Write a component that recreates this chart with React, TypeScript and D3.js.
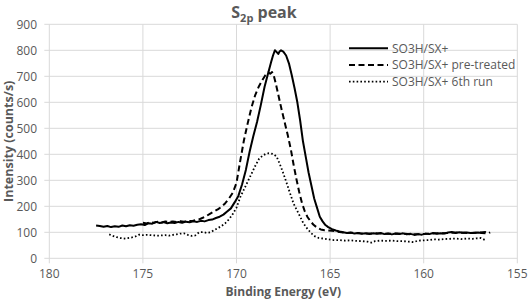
import React from "react";
import * as d3 from "d3";

const xTicks = [180, 175, 170, 165, 160, 155];
const yTicks = [0, 100, 200, 300, 400, 500, 600, 700, 800, 900];
const seriesNames = ["SO3H/SX+", "SO3H/SX+ pre-treated", "SO3H/SX+ 6th run"];

const solidX = [177.5,177.3,177.1,176.9,176.7,176.5,176.3,176.1,175.9,175.7,175.5,175.3,175.1,174.9,174.7,174.5,174.3,174.1,173.9,173.7,173.5,173.3,173.1,172.9,172.7,172.5,172.3,172.1,171.9,171.7,171.5,171.3,171.1,170.9,170.7,170.5,170.3,170.1,169.9,169.7,169.5,169.3,169.1,168.9,168.7,168.5,168.3,168.15,168.05,167.95,167.85,167.77,167.7,167.62,167.5,167.35,167.2,167.05,166.9,166.75,166.6,166.45,166.3,166.15,166.0,165.85,165.7,165.55,165.4,165.25,165.1,164.9,164.7,164.5,164.3,164.1,163.9,163.7,163.5,163.3,163.1,162.9,162.7,162.5,162.3,162.1,161.9,161.7,161.5,161.3,161.1,160.9,160.7,160.5,160.3,160.1,159.9,159.7,159.5,159.3,159.1,158.9,158.7,158.5,158.3,158.1,157.9,157.7,157.5,157.3,157.1,156.9,156.7];
const solidY = [126,124,121,124,120,123,121,126,123,127,125,129,131,128,135,133,140,136,139,135,138,136,140,137,141,139,142,140,144,142,147,149,155,160,168,180,192,215,240,285,340,410,470,525,590,660,715,755,780,800,793,786,795,800,795,780,750,705,655,600,530,450,390,330,280,230,195,160,142,128,120,112,107,103,100,97,99,95,97,94,96,93,96,94,97,93,95,92,95,93,96,92,94,90,93,91,95,93,97,94,96,95,99,101,97,100,98,99,97,98,99,97,96];

const dashedX = [175.0,174.8,174.6,174.4,174.2,174.0,173.8,173.6,173.4,173.2,173.0,172.8,172.6,172.4,172.2,172.0,171.8,171.6,171.4,171.2,171.0,170.8,170.6,170.4,170.2,170.0,169.8,169.6,169.4,169.2,169.0,168.8,168.6,168.45,168.3,168.2,168.1,168.0,167.9,167.77,167.6,167.4,167.25,167.1,166.95,166.8,166.65,166.5,166.35,166.2,166.05,165.9,165.7,165.5,165.3,165.1,164.9,164.7,164.5,164.3,164.1,163.8,163.4,163.0,162.6,162.2,161.8,161.4,161.0,160.6,160.2,159.8,159.4,159.0,158.6,158.2,157.8,157.4,157.0,156.7,156.55,156.45];
const dashedY = [137,134,139,137,141,138,142,139,142,140,143,141,144,143,147,150,156,163,172,180,188,198,212,230,252,290,375,455,520,580,628,662,688,705,715,710,716,700,672,630,575,515,470,420,360,305,255,212,180,158,143,130,118,111,108,107,106,104,101,99,97,98,96,95,96,95,94,95,94,92,93,94,96,96,98,99,98,97,99,101,96,100];

const dottedX = [176.8,176.6,176.4,176.2,176.0,175.8,175.6,175.4,175.2,175.0,174.8,174.6,174.4,174.2,174.0,173.8,173.6,173.4,173.2,173.0,172.8,172.6,172.4,172.2,172.0,171.8,171.6,171.4,171.2,171.0,170.8,170.6,170.4,170.2,170.0,169.8,169.6,169.4,169.2,169.0,168.8,168.6,168.45,168.3,168.15,168.0,167.85,167.7,167.5,167.3,167.14,166.95,166.78,166.6,166.43,166.2,166.0,165.8,165.6,165.36,165.1,164.8,164.5,164.2,163.9,163.6,163.3,163.0,162.8,162.6,162.3,162.0,161.7,161.4,161.1,160.8,160.55,160.3,160.0,159.7,159.5,159.2,158.9,158.6,158.3,158.0,157.7,157.4,157.17,156.95,156.72];
const dottedY = [92,86,81,78,76,78,80,84,91,89,90,89,88,87,88,89,87,90,92,95,96,90,86,88,100,101,98,100,108,116,124,135,150,170,195,235,265,295,325,355,382,395,401,404,403,400,390,365,327,285,250,210,186,160,135,112,96,84,78,76,73,70,70,68,69,67,66,64,60,66,68,67,68,66,66,64,62,68,69,70,73,72,74,75,76,74,76,75,77,78,70];

const W = 529, H = 300;
const plot = { left: 49.3, right: 517.3, top: 24.3, bottom: 258.3 };
const gray = "#595959";
const grid = "#d9d9d9";
const font = "'Open Sans', sans-serif";

export default function App() {
  const x = d3.scaleLinear().domain([180, 155]).range([plot.left, plot.right]);
  const y = d3.scaleLinear().domain([0, 900]).range([plot.bottom, plot.top]);
  const line = d3.line<[number, number]>().x(d => x(d[0])).y(d => y(d[1]));
  const zip = (a: number[], b: number[]) => a.map((v, i) => [v, b[i]] as [number, number]);
  const series = [
    { name: seriesNames[0], data: zip(solidX, solidY), dash: "none", w: 2 },
    { name: seriesNames[1], data: zip(dashedX, dashedY), dash: "6,3.5", w: 2 },
    { name: seriesNames[2], data: zip(dottedX, dottedY), dash: "1.6,2.2", w: 1.8 },
  ];
  const legendY = [48.3, 65, 81.7];
  return (
    <svg width={W} height={H} style={{ position: "absolute", left: 0, top: 0, background: "#fff" }} fontFamily={font}>
      <rect width={W} height={H} fill="#fff" />
      {yTicks.map(t => (
        <g key={"y" + t}>
          <line x1={plot.left - 5} x2={plot.right} y1={y(t)} y2={y(t)} stroke={grid} strokeWidth={1} />
          <text x={37} y={y(t)} dy="0.35em" textAnchor="end" fontSize={12} fill={gray}>{t}</text>
        </g>
      ))}
      {xTicks.map(t => (
        <g key={"x" + t}>
          <line x1={x(t)} x2={x(t)} y1={plot.top} y2={plot.bottom + 5} stroke={grid} strokeWidth={1} />
          <text x={x(t)} y={278} textAnchor="middle" fontSize={12} fill={gray}>{t}</text>
        </g>
      ))}
      {series.map(s => (
        <path key={s.name} d={line(s.data) || ""} fill="none" stroke="#000" strokeWidth={s.w}
          strokeDasharray={s.dash} strokeLinejoin="round" />
      ))}
      {series.map((s, i) => (
        <g key={"lg" + i}>
          <line x1={349} x2={388} y1={legendY[i]} y2={legendY[i]} stroke="#000" strokeWidth={s.w} strokeDasharray={s.dash} />
          <text x={392} y={legendY[i]} dy="0.35em" fontSize={12} fill={gray}>{s.name}</text>
        </g>
      ))}
      <text x={264} y={17.5} textAnchor="middle" fontSize={16} fontWeight="bold" fill={gray}>
        S<tspan fontSize={11} dy={4}>2p</tspan><tspan dy={-4}> peak</tspan>
      </text>
      <text x={(plot.left + plot.right) / 2} y={296} textAnchor="middle" fontSize={12} fontWeight="bold" fill={gray}>Binding Energy (eV)</text>
      <text transform={`translate(13,${(plot.top + plot.bottom) / 2}) rotate(-90)`} textAnchor="middle" fontSize={12.5} fontWeight="bold" fill={gray}>Intensity (counts/s)</text>
    </svg>
  );
}
